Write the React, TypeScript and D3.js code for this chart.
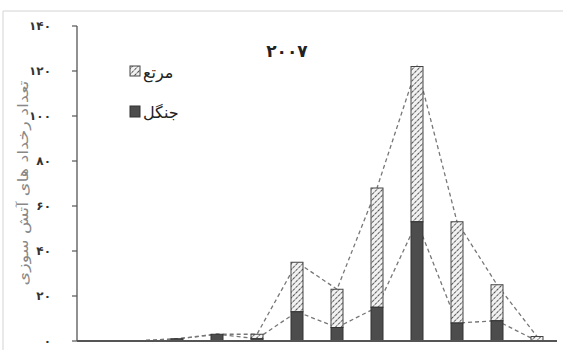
import React from "react";
import * as d3 from "d3";

// Monthly fire counts, 2007
const categories = ["1", "2", "3", "4", "5", "6", "7", "8", "9", "10", "11", "12"];
const forest = [0, 0, 1, 3, 1, 13, 6, 15, 53, 8, 9, 0];
const rangeland = [0, 0, 0, 0, 2, 22, 17, 53, 69, 45, 16, 2];
const yTicks = [0, 20, 40, 60, 80, 100, 120, 140];

const title = "۲۰۰۷";
const yTitle = "تعداد رخداد های آتش سوزی";
const legendRange = "مرتع";
const legendForest = "جنگل";

const W = 563;
const H = 350;
const faFont = "'DejaVu Sans', sans-serif";

const toFa = (n: number) =>
  String(n).replace(/\d/g, (d) => "۰۱۲۳۴۵۶۷۸۹"[+d]);

export default function App() {
  const x = d3
    .scaleBand<string>()
    .domain(categories)
    .range([77, 557])
    .paddingInner(0.7)
    .paddingOuter(0.35);
  const y = d3.scaleLinear().domain([0, 140]).range([341, 26]);

  const totals = forest.map((f, i) => f + rangeland[i]);
  const cx = (i: number) => (x(categories[i]) as number) + x.bandwidth() / 2;

  const line = d3
    .line<number>()
    .x((_, i) => cx(i))
    .y((v) => y(v));

  return (
    <svg
      width={W}
      height={H}
      style={{ position: "absolute", left: 0, top: 0, background: "#fff" }}
    >
      <defs>
        <pattern
          id="hatch"
          width="4"
          height="4"
          patternUnits="userSpaceOnUse"
          patternTransform="rotate(45)"
        >
          <rect width="4" height="4" fill="#f2f2f2" />
          <line x1="0" y1="0" x2="0" y2="4" stroke="#555" strokeWidth="2" strokeDasharray="2.5,1" />
        </pattern>
      </defs>

      {/* frame */}
      <line x1={3} y1={11} x2={W} y2={11} stroke="#e2e2e2" strokeWidth={1.5} />
      <line x1={3} y1={11} x2={3} y2={H} stroke="#e2e2e2" strokeWidth={1.5} />

      {/* y axis */}
      <line x1={77} y1={y(140)} x2={77} y2={y(0)} stroke="#555" strokeWidth={1.3} />
      {yTicks.map((t) => (
        <g key={t}>
          <line x1={72} x2={77} y1={y(t)} y2={y(t)} stroke="#555" strokeWidth={1.2} />
          <text
            x={51}
            y={y(t)}
            dy="0.35em"
            textAnchor="end"
            fontFamily={faFont}
            fontSize={12}
            fontWeight="bold"
            fill="#333"
          >
            {toFa(t)}
          </text>
        </g>
      ))}
      <text
        transform={`translate(23,183) rotate(-90)`}
        textAnchor="middle"
        dy="0.35em"
        fontFamily={faFont}
        fontSize={14}
        textLength={205}
        lengthAdjust="spacingAndGlyphs"
        fill="#888"
      >
        {yTitle}
      </text>

      {/* trend lines through stack tops */}
      <path d={line(totals) || ""} fill="none" stroke="#777" strokeWidth={1.3} strokeDasharray="4,3" />
      <path d={line(forest) || ""} fill="none" stroke="#777" strokeWidth={1.3} strokeDasharray="4,3" />

      {/* stacked bars */}
      {categories.map((c, i) => {
        const bx = x(c) as number;
        const bw = x.bandwidth();
        return (
          <g key={c}>
            {rangeland[i] > 0 && (
              <rect
                x={bx}
                y={y(totals[i])}
                width={bw}
                height={y(forest[i]) - y(totals[i])}
                fill="url(#hatch)"
                stroke="#444"
                strokeWidth={1}
              />
            )}
            {forest[i] > 0 && (
              <rect
                x={bx}
                y={y(forest[i])}
                width={bw}
                height={y(0) - y(forest[i])}
                fill="#4d4d4d"
                stroke="#333"
                strokeWidth={1}
              />
            )}
          </g>
        );
      })}

      {/* baseline */}
      <line x1={77} x2={557} y1={y(0)} y2={y(0)} stroke="#555" strokeWidth={2} />

      {/* title */}
      <text
        x={287}
        y={57}
        textAnchor="middle"
        fontFamily={faFont}
        fontSize={17}
        fontWeight="bold"
        fill="#222"
      >
        {title}
      </text>

      {/* legend */}
      <rect x={130} y={66} width={10} height={10} fill="url(#hatch)" stroke="#444" />
      <text x={143} y={78} fontFamily={faFont} fontSize={16} fill="#222">
        {legendRange}
      </text>
      <rect x={130} y={106} width={10} height={11} fill="#4d4d4d" stroke="#333" />
      <text x={143} y={118} fontFamily={faFont} fontSize={16} fill="#222">
        {legendForest}
      </text>
    </svg>
  );
}
